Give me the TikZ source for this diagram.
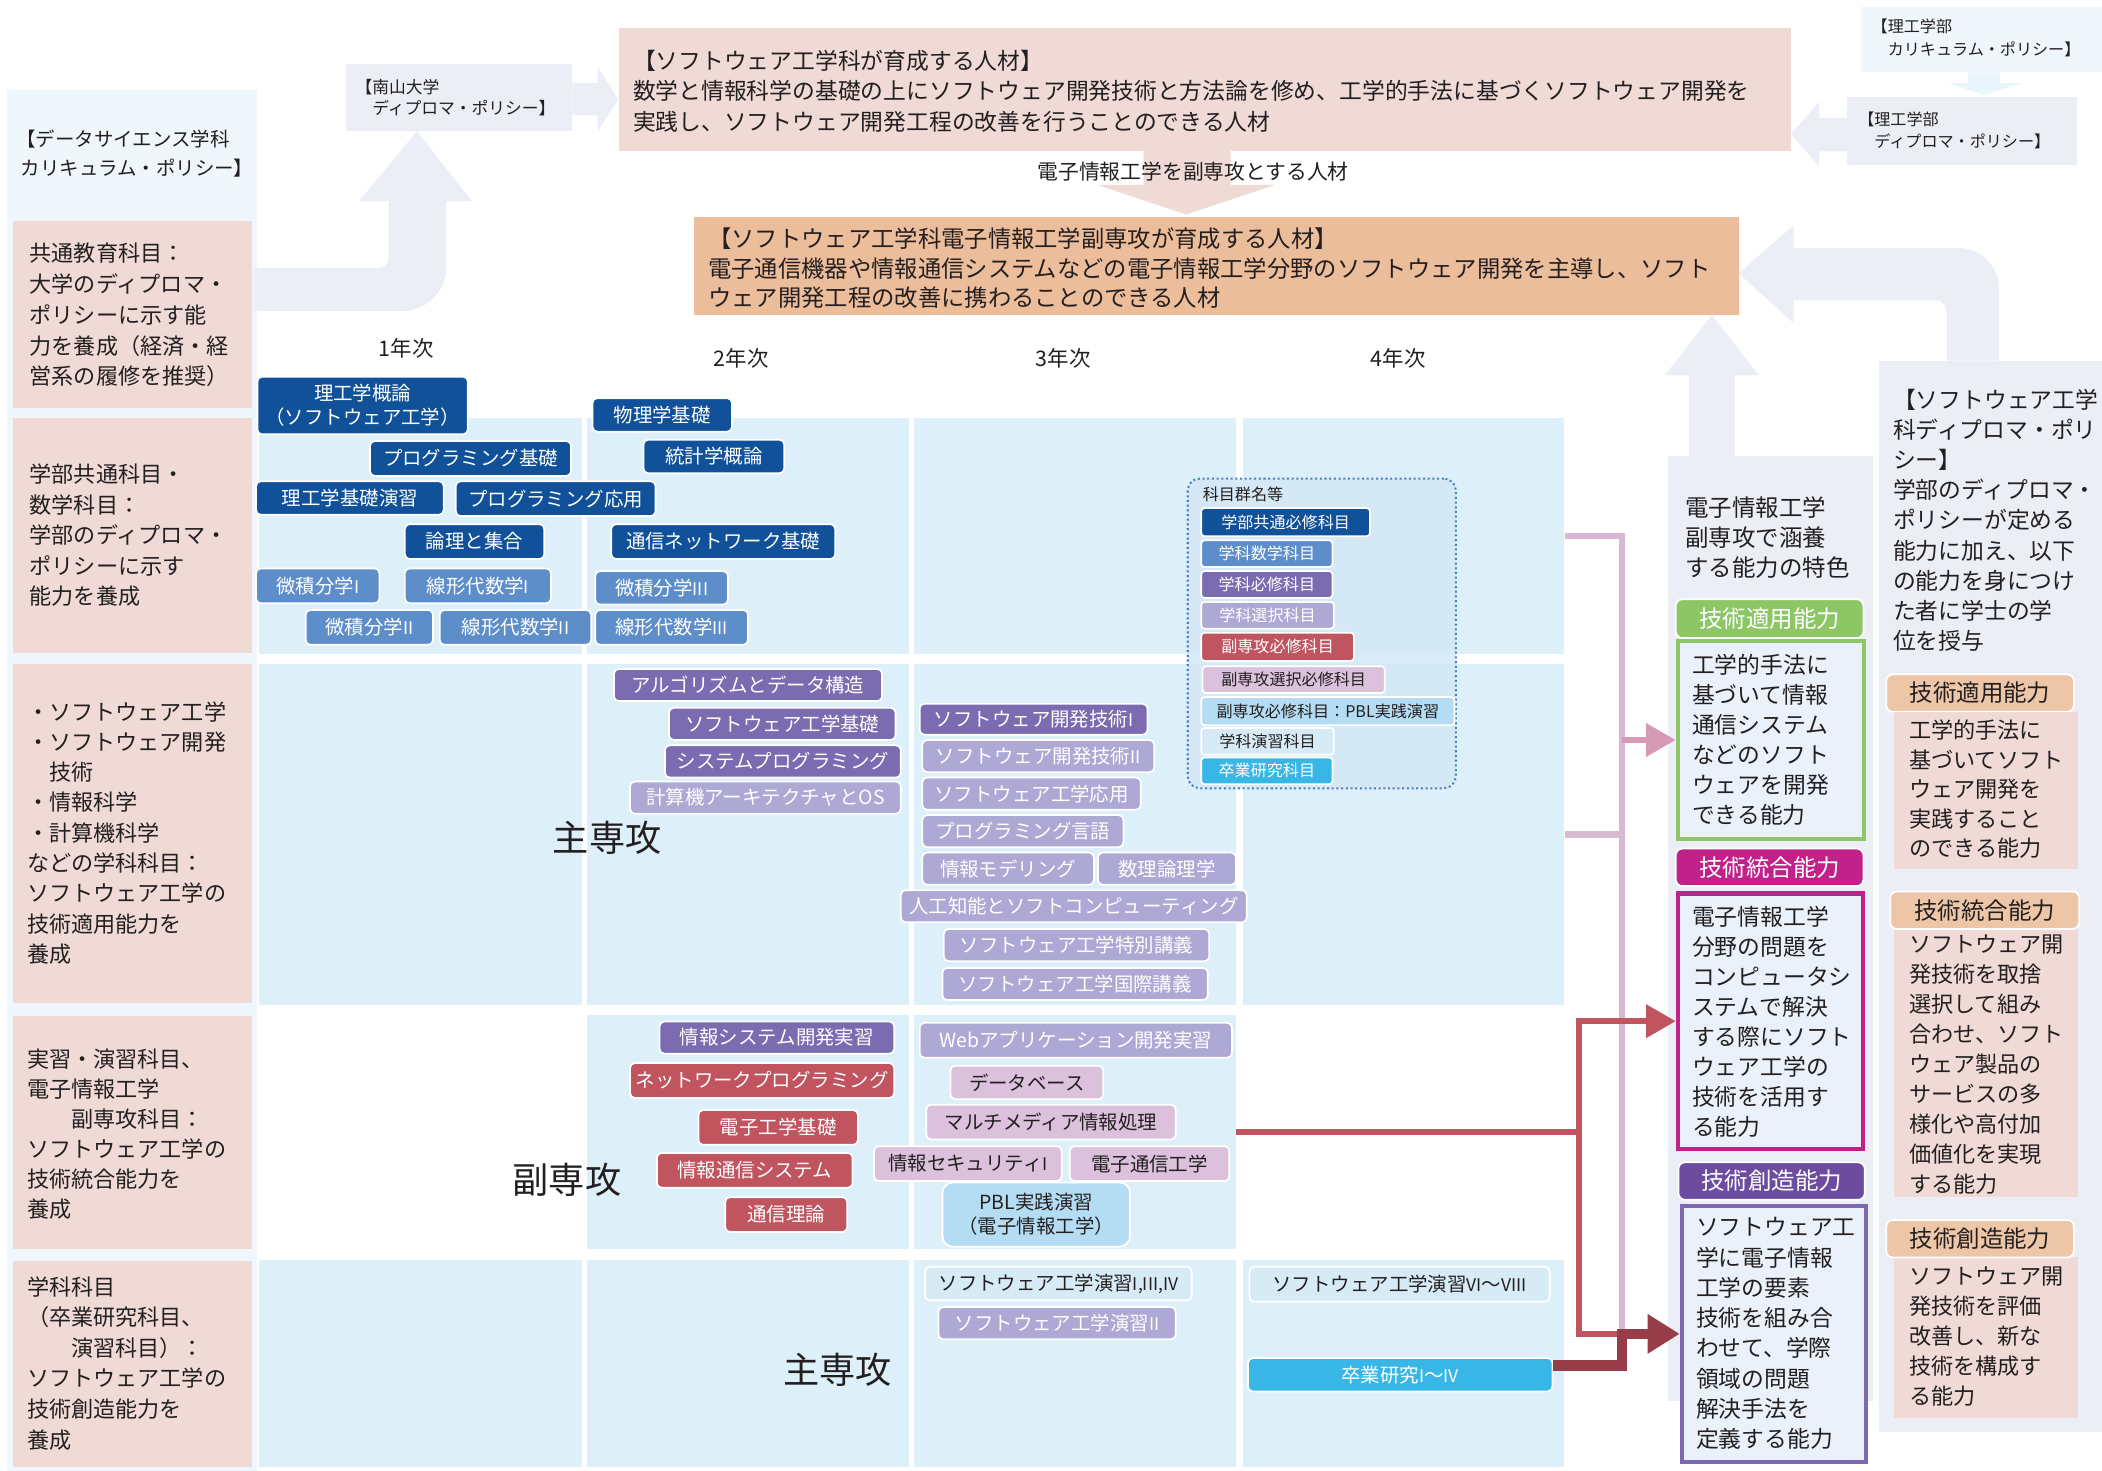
\documentclass[tikz,border=0pt]{standalone}
\usepackage{fontspec}
\setmainfont{Noto Sans CJK JP}
\usetikzlibrary{arrows.meta}
\definecolor{txtc}{HTML}{231F20}
\definecolor{cDB}{HTML}{10519A}
\definecolor{cMB}{HTML}{5E8ECA}
\definecolor{cPU}{HTML}{7B6BB0}
\definecolor{cLV}{HTML}{ADA9D4}
\definecolor{cRD}{HTML}{C0545F}
\definecolor{cLL}{HTML}{DBC1DC}
\definecolor{cLB}{HTML}{B4DDF4}
\definecolor{cVL}{HTML}{D7EBF7}
\definecolor{cCY}{HTML}{38B6E6}
\definecolor{gridbg}{HTML}{DDF0FA}
\definecolor{pinkbg}{HTML}{EFDAD5}
\definecolor{peach}{HTML}{ECBD9B}
\definecolor{peachhd}{HTML}{EDC6A8}
\definecolor{agray}{HTML}{EBEEF5}
\definecolor{leftbg}{HTML}{F0F7FC}
\definecolor{cGR}{HTML}{8CC665}
\definecolor{cMG}{HTML}{C0228A}
\definecolor{cVH}{HTML}{6D4C9F}
\definecolor{cVB}{HTML}{7C69B1}
\definecolor{capfill}{HTML}{EAF1FA}
\definecolor{colP}{HTML}{D9B8D3}
\definecolor{colPa}{HTML}{D59BB6}
\definecolor{colR}{HTML}{C0545F}
\definecolor{colK}{HTML}{973C49}
\definecolor{lgfill}{HTML}{D3E8F5}
\definecolor{lgdot}{HTML}{4A7FC1}
\newcommand\fs[2]{\fontsize{#1}{#2}\selectfont}
\newcommand\rn[1]{{\fontsize{13}{13}\selectfont #1}}
\newcommand\crsbox[7]{\node[#6, minimum width={(#4-#2)*1pt}, minimum height={(#5-#3)*1pt}] (#1) at ({(#2+#4)/2},{(#3+#5)/2}) {#7};}
\begin{document}
\begin{tikzpicture}[x=1pt,y=-1pt,
  txt/.style={inner sep=0pt, align=left, text=txtc, anchor=north west},
  plain/.style={inner sep=0pt, draw=none},
  cell/.style={plain, fill=gridbg},
  pinkrow/.style={plain, fill=pinkbg},
  crs/.style={rounded corners=3.5pt, draw=white, line width=1.3pt, inner sep=0pt, align=center, font=\fs{14.5}{18}},
  cDBs/.style={crs, fill=cDB, text=white},
  cMBs/.style={crs, fill=cMB, text=white},
  cPUs/.style={crs, fill=cPU, text=white},
  cLVs/.style={crs, fill=cLV, text=white},
  cRDs/.style={crs, fill=cRD, text=white},
  cLLs/.style={crs, fill=cLL, text=txtc},
  cLBs/.style={crs, fill=cLB, text=txtc},
  cVLs/.style={crs, fill=cVL, text=txtc},
  cCYs/.style={crs, fill=cCY, text=white},
  lgf/.style={font=\fs{12}{14}, rounded corners=2.5pt},
  yr/.style={inner sep=0pt, text=txtc, font=\fs{16}{18}},
  big/.style={inner sep=0pt, text=txtc, font=\fs{27}{30}},
  caphd/.style={plain, rounded corners=5pt, draw=white, line width=1.3pt, text=white, font=\fs{17.5}{20}},
  capbx/.style={plain, fill=capfill, line width=3pt},
  dphd/.style={plain, rounded corners=5pt, draw=white, line width=1.3pt, fill=peachhd, text=txtc, font=\fs{17.5}{20}},
  lineP/.style={draw=colP, line width=4.5pt},
  linePa/.style={draw=colPa, line width=4.5pt, -{Triangle[length=22pt,width=24pt]}},
  lineR/.style={draw=colR, line width=4.5pt},
  lineRa/.style={draw=colR, line width=4.5pt, -{Triangle[length=22pt,width=24pt]}},
  lineK/.style={draw=colK, line width=8pt, -{Triangle[length=24pt,width=28pt]}}
]
\useasboundingbox (0,0) rectangle (1568,1097);
\fill[white] (0,0) rectangle (1568,1097);

% ---------- left column ----------
\crsbox{leftcol}{5}{67}{192}{1097}{plain, fill=leftbg}{}
\crsbox{lA}{10}{165}{188}{304}{pinkrow}{}
\crsbox{lB}{10}{312}{188}{487}{pinkrow}{}
\crsbox{lC}{10}{495}{188}{748}{pinkrow}{}
\crsbox{lD}{10}{758}{188}{932}{pinkrow}{}
\crsbox{lE}{10}{941}{188}{1094}{pinkrow}{}
\node[txt, font=\fs{14.5}{21}] (lhead) at (12,97) {【データサイエンス学科\\\ カリキュラム・ポリシー】};
\node[txt, font=\fs{16.5}{23}] (lAt) at (22,181) {共通教育科目：\\大学のディプロマ・\\ポリシーに示す能\\力を養成（経済・経\\営系の履修を推奨）};
\node[txt, font=\fs{16.5}{22.75}] (lBt) at (22,346) {学部共通科目・\\数学科目：\\学部のディプロマ・\\ポリシーに示す\\能力を養成};
\node[txt, font=\fs{16.5}{22.6}] (lCt) at (20,523) {・ソフトウェア工学\\・ソフトウェア開発\\　技術\\・情報科学\\・計算機科学\\などの学科科目：\\ソフトウェア工学の\\技術適用能力を\\養成};
\node[txt, font=\fs{16.5}{22.4}] (lDt) at (20,782) {実習・演習科目、\\電子情報工学\\　　副専攻科目：\\ソフトウェア工学の\\技術統合能力を\\養成};
\node[txt, font=\fs{16.5}{22.8}] (lEt) at (20,952) {学科科目\\（卒業研究科目、\\　　演習科目）：\\ソフトウェア工学の\\技術創造能力を\\養成};

% ---------- big background arrows ----------
\fill[agray] (190,200) -- (282,200) .. controls (286.4,200) and (290,196.4) .. (290,192) -- (290,150) -- (268,150) -- (311,98) -- (352,150) -- (333,150) -- (333,199) .. controls (333,217.2) and (318.2,232) .. (300,232) -- (190,232) -- cycle;
\fill[agray] (1452,269) -- (1452,232) .. controls (1452,227.6) and (1448.4,224) .. (1444,224) -- (1338,224) -- (1338,241) -- (1297,204) -- (1338,168) -- (1338,185) -- (1461,185) .. controls (1477.6,185) and (1491,198.4) .. (1491,215) -- (1491,269) -- cycle;
\fill[agray] (1260,340) -- (1260,280) -- (1242,280) -- (1277,235) -- (1312,280) -- (1294,280) -- (1294,340) -- cycle;
\fill[agray] (427,62) -- (446,62) -- (446,50) -- (461,74) -- (446,98) -- (446,86) -- (427,86) -- cycle;
\fill[agray] (1378,88) -- (1357,88) -- (1357,76) -- (1336,100) -- (1357,124) -- (1357,113) -- (1378,113) -- cycle;
\fill[leftbg!70!gridbg] (1468,54) -- (1492,54) -- (1492,62) -- (1508,62) -- (1480,71) -- (1454,62) -- (1468,62) -- cycle;
\fill[pinkbg] (853,112) -- (918,112) -- (918,138) -- (951,138) -- (885,160) -- (819,138) -- (853,138) -- cycle;

% ---------- top boxes ----------
\crsbox{nanzan}{258}{48}{427}{98}{plain, fill=agray}{}
\node[txt, font=\fs{12.5}{16}] (nanzant) at (265,59) {【南山大学\\　ディプロマ・ポリシー】};
\crsbox{topbox}{462}{21}{1336}{113}{plain, fill=pinkbg}{}
\node[txt, font=\fs{17}{23}] (topt) at (472,37) {【ソフトウェア工学科が育成する人材】\\数学と情報科学の基礎の上にソフトウェア開発技術と方法論を修め、工学的手法に基づくソフトウェア開発を\\実践し、ソフトウェア開発工程の改善を行うことのできる人材};
\node[inner sep=0pt, text=txtc, font=\fs{15.5}{17}] (midlbl) at (890,128) {電子情報工学を副専攻とする人材};
\crsbox{secbox}{518}{162}{1297}{235}{plain, fill=peach}{}
\node[txt, font=\fs{17.4}{22}] (sect) at (528,170) {【ソフトウェア工学科電子情報工学副専攻が育成する人材】\\電子通信機器や情報通信システムなどの電子情報工学分野のソフトウェア開発を主導し、ソフト\\ウェア開発工程の改善に携わることのできる人材};
\crsbox{rcp}{1388}{5}{1568}{54}{plain, fill=leftbg}{}
\node[txt, font=\fs{12}{17}] (rcpt) at (1396,14) {【理工学部\\　カリキュラム・ポリシー】};
\crsbox{rdp}{1378}{72}{1549}{123}{plain, fill=agray}{}
\node[txt, font=\fs{12}{17}] (rdpt) at (1386,83) {【理工学部\\　ディプロマ・ポリシー】};

% ---------- year labels ----------
\node[yr] (y1) at (303,260) {1年次};
\node[yr] (y2) at (553,267) {2年次};
\node[yr] (y3) at (793,267) {3年次};
\node[yr] (y4) at (1043,267) {4年次};

% ---------- grid ----------
\crsbox{cB1}{193}{312}{434}{488}{cell}{}
\crsbox{cB2}{438}{312}{678}{488}{cell}{}
\crsbox{cB3}{682}{312}{922}{488}{cell}{}
\crsbox{cB4}{927}{312}{1167}{488}{cell}{}
\crsbox{cC1}{193}{495}{434}{750}{cell}{}
\crsbox{cC2}{438}{495}{678}{750}{cell}{}
\crsbox{cC3}{682}{495}{922}{750}{cell}{}
\crsbox{cC4}{927}{495}{1167}{750}{cell}{}
\crsbox{cD2}{438}{757}{678}{932}{cell}{}
\crsbox{cD3}{682}{757}{922}{932}{cell}{}
\crsbox{cE1}{193}{940}{434}{1094}{cell}{}
\crsbox{cE2}{438}{940}{678}{1094}{cell}{}
\crsbox{cE3}{682}{940}{922}{1094}{cell}{}
\crsbox{cE4}{927}{940}{1167}{1094}{cell}{}

\node[big] (maj1) at (453,625) {主専攻};
\node[big] (minr) at (423,880) {副専攻};
\node[big] (maj2) at (625,1022) {主専攻};

% ---------- row B courses ----------
\crsbox{b1}{192}{281}{349}{324}{cDBs}{理工学概論\\（ソフトウェア工学）}
\crsbox{b2}{442}{297}{546}{322}{cDBs}{物理学基礎}
\crsbox{b3}{276}{329}{426}{355}{cDBs}{プログラミング基礎}
\crsbox{b4}{480}{328}{585}{353}{cDBs}{統計学概論}
\crsbox{b5}{191}{359}{331}{384}{cDBs}{理工学基礎演習}
\crsbox{b6}{340}{359}{489}{385}{cDBs}{プログラミング応用}
\crsbox{b7}{302}{391}{406}{417}{cDBs}{論理と集合}
\crsbox{b8}{456}{391}{623}{417}{cDBs}{通信ネットワーク基礎}
\crsbox{b9}{191}{424}{283}{450}{cMBs}{微積分学\rn{I}}
\crsbox{b10}{302}{424}{411}{450}{cMBs}{線形代数学\rn{I}}
\crsbox{b11}{444}{426}{543}{451}{cMBs}{微積分学\rn{III}}
\crsbox{b12}{228}{455}{323}{481}{cMBs}{微積分学\rn{II}}
\crsbox{b13}{328}{455}{441}{481}{cMBs}{線形代数学\rn{II}}
\crsbox{b14}{444}{455}{558}{481}{cMBs}{線形代数学\rn{III}}

% ---------- row C courses ----------
\crsbox{c1}{458}{499}{658}{523}{cPUs}{アルゴリズムとデータ構造}
\crsbox{c2}{499}{528}{668}{552}{cPUs}{ソフトウェア工学基礎}
\crsbox{c3}{496}{556}{672}{580}{cPUs}{システムプログラミング}
\crsbox{c4}{470}{583}{672}{607}{cLVs}{計算機アーキテクチャとOS}
\crsbox{c5}{686}{525}{856}{548}{cPUs}{ソフトウェア開発技術\rn{I}}
\crsbox{c6}{688}{552}{861}{576}{cLVs}{ソフトウェア開発技術\rn{II}}
\crsbox{c7}{688}{580}{851}{604}{cLVs}{ソフトウェア工学応用}
\crsbox{c8}{688}{608}{838}{632}{cLVs}{プログラミング言語}
\crsbox{c9}{688}{636}{816}{660}{cLVs}{情報モデリング}
\crsbox{c10}{819}{636}{922}{660}{cLVs}{数理論理学}
\crsbox{c11}{672}{664}{930}{688}{cLVs}{人工知能とソフトコンピューティング}
\crsbox{c12}{704}{693}{902}{717}{cLVs}{ソフトウェア工学特別講義}
\crsbox{c13}{703}{722}{901}{746}{cLVs}{ソフトウェア工学国際講義}

% ---------- row D courses ----------
\crsbox{d1}{492}{762}{667}{786}{cPUs}{情報システム開発実習}
\crsbox{d2}{470}{793}{667}{819}{cRDs}{ネットワークプログラミング}
\crsbox{d3}{521}{828}{640}{854}{cRDs}{電子工学基礎}
\crsbox{d4}{490}{860}{636}{886}{cRDs}{情報通信システム}
\crsbox{d5}{541}{893}{632}{919}{cRDs}{通信理論}
\crsbox{d6}{686}{763}{919}{789}{cLVs}{Webアプリケーション開発実習}
\crsbox{d7}{709}{795}{823}{820}{cLLs}{データベース}
\crsbox{d8}{691}{824}{877}{850}{cLLs}{マルチメディア情報処理}
\crsbox{d9}{652}{855}{792}{881}{cLLs}{情報セキュリティ\rn{I}}
\crsbox{d10}{798}{855}{917}{881}{cLLs}{電子通信工学}
\crsbox{d11}{703}{882}{843}{930}{cLBs, rounded corners=8pt}{PBL実践演習\\（電子情報工学）}

% ---------- row E courses ----------
\crsbox{e1}{690}{945}{889}{970}{cVLs}{ソフトウェア工学演習\rn{I,III,IV}}
\crsbox{e2}{700}{975}{877}{999}{cLVs}{ソフトウェア工学演習\rn{II}}
\crsbox{e3}{932}{945}{1156}{971}{cVLs}{ソフトウェア工学演習\rn{VI}〜\rn{VIII}}
\crsbox{e4}{931}{1013}{1158}{1038}{cCYs}{卒業研究\rn{I}〜\rn{IV}}

% ---------- legend ----------
\crsbox{legend}{886}{357}{1086}{588}{plain, fill=lgfill, fill opacity=0.85, draw=lgdot, line width=1.5pt, dotted, rounded corners=9pt}{}
\node[txt, font=\fs{12}{14}] (lgt) at (897,363) {科目群名等};
\crsbox{lg1}{896}{379}{1022}{400}{cDBs,lgf}{学部共通必修科目}
\crsbox{lg2}{896}{403}{994}{423}{cMBs,lgf}{学科数学科目}
\crsbox{lg3}{896}{426}{994}{446}{cPUs,lgf}{学科必修科目}
\crsbox{lg4}{896}{449}{995}{469}{cLVs,lgf}{学科選択科目}
\crsbox{lg5}{896}{472}{1010}{493}{cRDs,lgf}{副専攻必修科目}
\crsbox{lg6}{897}{497}{1033}{517}{cLLs,lgf}{副専攻選択必修科目}
\crsbox{lg7}{896}{520}{1085}{541}{cLBs,lgf}{副専攻必修科目：PBL実践演習}
\crsbox{lg8}{896}{543}{995}{563}{cVLs,lgf}{学科演習科目}
\crsbox{lg9}{896}{565}{994}{585}{cCYs,lgf}{卒業研究科目}

% ---------- capability panel ----------
\crsbox{cappanel}{1244}{340}{1397}{1045}{plain, fill=agray}{}
\node[txt, font=\fs{17.5}{22.5}] (capt) at (1257,370) {電子情報工学\\副専攻で涵養\\する能力の特色};
\crsbox{hA}{1250}{447}{1390}{476}{caphd, fill=cGR}{技術適用能力}
\crsbox{bA}{1251.5}{478}{1390.5}{626}{capbx, draw=cGR}{}
\node[txt, font=\fs{17}{22.4}] (bAt) at (1262,488) {工学的手法に\\基づいて情報\\通信システム\\などのソフト\\ウェアを開発\\できる能力};
\crsbox{hB}{1250}{633}{1390}{661}{caphd, fill=cMG}{技術統合能力}
\crsbox{bB}{1251.5}{666.5}{1389.5}{857}{capbx, draw=cMG}{}
\node[txt, font=\fs{17}{22.4}] (bBt) at (1262,676) {電子情報工学\\分野の問題を\\コンピュータシ\\ステムで解決\\する際にソフト\\ウェア工学の\\技術を活用す\\る能力};
\crsbox{hC}{1252}{867}{1391}{895}{caphd, fill=cVH}{技術創造能力}
\crsbox{bC}{1254.5}{899.5}{1392}{1090.5}{capbx, draw=cVB}{}
\node[txt, font=\fs{17}{22.6}] (bCt) at (1265,908) {ソフトウェア工\\学に電子情報\\工学の要素\\技術を組み合\\わせて、学際\\領域の問題\\解決手法を\\定義する能力};

% ---------- DP panel ----------
\crsbox{dppanel}{1402}{269}{1568}{1068}{plain, fill=agray}{}
\node[txt, font=\fs{17}{22.5}] (dpt) at (1412,290) {【ソフトウェア工学\\科ディプロマ・ポリ\\シー】\\学部のディプロマ・\\ポリシーが定める\\能力に加え、以下\\の能力を身につけ\\た者に学士の学\\位を授与};
\crsbox{rAh}{1407}{503}{1547}{531}{dphd}{技術適用能力}
\crsbox{rAb}{1413}{531}{1550}{648}{plain, fill=pinkbg}{}
\node[txt, font=\fs{16.5}{22}] (rAt) at (1424,537) {工学的手法に\\基づいてソフト\\ウェア開発を\\実践すること\\のできる能力};
\crsbox{rBb}{1413}{693}{1550}{893}{plain, fill=pinkbg}{}
\crsbox{rBh}{1410}{665}{1551}{693}{dphd}{技術統合能力}
\node[txt, font=\fs{16.5}{22.4}] (rBt) at (1424,697) {ソフトウェア開\\発技術を取捨\\選択して組み\\合わせ、ソフト\\ウェア製品の\\サービスの多\\様化や高付加\\価値化を実現\\する能力};
\crsbox{rCb}{1413}{938}{1550}{1058}{plain, fill=pinkbg}{}
\crsbox{rCh}{1407}{910}{1547}{938}{dphd}{技術創造能力}
\node[txt, font=\fs{16.5}{22.25}] (rCt) at (1424,945) {ソフトウェア開\\発技術を評価\\改善し、新な\\技術を構成す\\る能力};

% ---------- connectors ----------
\coordinate (jP) at (1210,993);
\coordinate (jR) at (1178,995);
\draw[lineP] (cB4.east) -| (jP);
\draw[lineP] (cC4.east) -- (cC4.east -| jP);
\draw[linePa] (bA.west -| jP) -- (bA.west);
\draw[lineR] (cD3.east) -| (jR) -- (jR -| jP);
\draw[lineRa] (cD3.east -| jR) |- (bB.west);
\draw[lineK] ([yshift=7pt]e4.east) -- ([yshift=7pt]e4.east -| jP) |- (bC.west);
\end{tikzpicture}
\end{document}
